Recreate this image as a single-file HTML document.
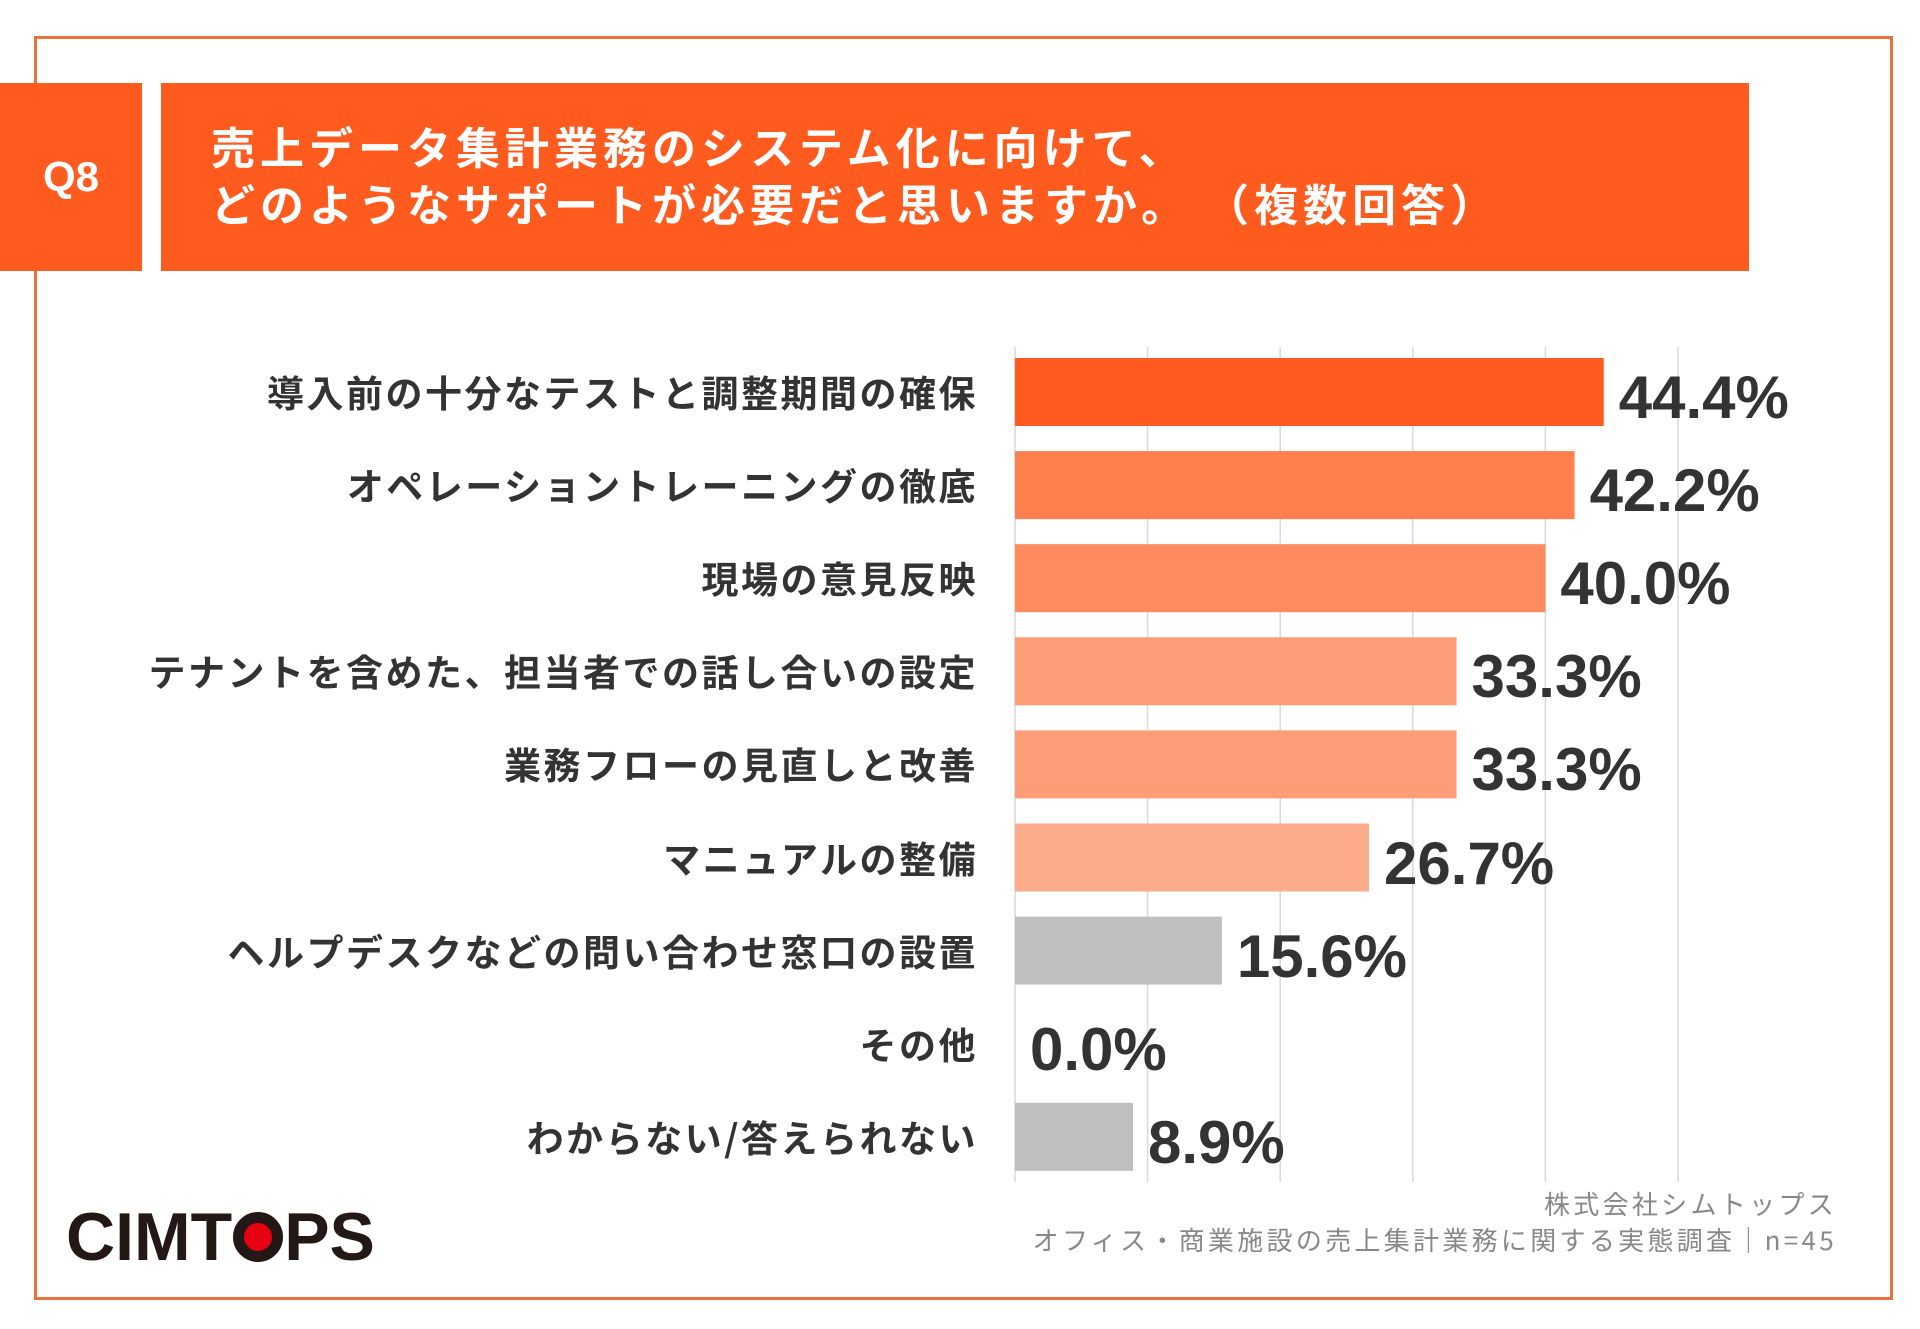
<!DOCTYPE html>
<html><head><meta charset="utf-8">
<style>
body{margin:0;width:1920px;height:1329px;background:#fff;position:relative;overflow:hidden;font-family:"Liberation Sans","Noto Sans CJK JP",sans-serif;}
.abs{position:absolute;}
#frame{left:34px;top:36px;width:1853px;height:1258px;border:3px solid #e8733f;}
#q8{left:0;top:83px;width:142px;height:188px;background:#ff5b1f;color:#fff;font-weight:bold;font-size:42px;display:flex;align-items:center;justify-content:center;}
#title{left:161px;top:83px;width:1588px;height:188px;background:#ff5b1f;}
#title div{position:absolute;left:50px;color:#fff;font-weight:bold;font-size:44px;letter-spacing:5px;line-height:50px;white-space:nowrap;font-family:"Noto Sans CJK JP",sans-serif;}
.lbl{position:absolute;right:942px;font-family:"Noto Sans CJK JP",sans-serif;font-weight:bold;font-size:37px;letter-spacing:2.5px;color:#333;white-space:nowrap;}
.val{position:absolute;font-weight:bold;font-size:60px;color:#333;white-space:nowrap;}
#foot{right:83px;top:1186px;text-align:right;color:#888;font-size:26px;letter-spacing:3.3px;line-height:36px;font-family:"Noto Sans CJK JP",sans-serif;}
#logo{left:66px;top:1200px;font-weight:bold;font-size:68px;color:#231815;line-height:74px;white-space:nowrap;}
</style></head><body>
<div id="frame" class="abs"></div>
<div id="q8" class="abs">Q8</div>
<div id="title" class="abs">
<div style="top:37px">売上データ集計業務のシステム化に向けて、</div>
<div style="top:94px">どのようなサポートが必要だと思いますか。 （複数回答）</div>
</div>
<svg class="abs" style="left:0;top:0" width="1920" height="1329" id="chart"></svg>
<div id="labels"></div>
<div id="foot" class="abs">株式会社シムトップス<br>オフィス・商業施設の売上集計業務に関する実態調査｜n=45</div>
<div id="logo" class="abs">CIMT<span style="display:inline-block;width:50px;height:50px;border:11px solid #231815;border-radius:50%;background:#e60012;vertical-align:-2px;margin:0 1px;box-sizing:border-box;"></span>PS</div>
<script>
const categories=["導入前の十分なテストと調整期間の確保","オペレーショントレーニングの徹底","現場の意見反映","テナントを含めた、担当者での話し合いの設定","業務フローの見直しと改善","マニュアルの整備","ヘルプデスクなどの問い合わせ窓口の設置","その他","わからない/答えられない"];
const values=[44.4,42.2,40.0,33.3,33.3,26.7,15.6,0.0,8.9];
const valueLabels=["44.4%","42.2%","40.0%","33.3%","33.3%","26.7%","15.6%","0.0%","8.9%"];
const colors=["#ff5b1f","#ff7f4e","#ff8b5f","#fd9d77","#fd9d77","#fdac8b","#bfbfbf","#bfbfbf","#bfbfbf"];
const gridTicks=[0,10,20,30,40,50];
const NS="http://www.w3.org/2000/svg";
const x0=1015,pxPer=13.26,y0=392,pitch=93.1,bh=68;
const xs=v=>x0+v*pxPer, yc=i=>y0+i*pitch;
const svg=document.getElementById('chart');
gridTicks.forEach(t=>{
 const l=document.createElementNS(NS,'line');
 l.setAttribute('x1',xs(t));l.setAttribute('x2',xs(t));l.setAttribute('y1',347);l.setAttribute('y2',1182);
 l.setAttribute('stroke','#d9d9d9');l.setAttribute('stroke-width','1.5');
 
 
 svg.appendChild(l);
});
const lab=document.getElementById('labels');
values.forEach((v,i)=>{
 const r=document.createElementNS(NS,'rect');
 r.setAttribute('x',x0);r.setAttribute('y',yc(i)-bh/2);r.setAttribute('width',Math.max(0,xs(v)-x0));r.setAttribute('height',bh);
 r.setAttribute('fill',colors[i]);
 
 
 svg.appendChild(r);
 const d=document.createElement('div');d.className='lbl';d.textContent=categories[i];
 d.style.top=(yc(i)-28)+'px';
 
 
 lab.appendChild(d);
 const t=document.createElement('div');t.className='val';t.textContent=valueLabels[i];
 t.style.left=(xs(v)+15)+'px';t.style.top=(yc(i)-29)+'px';
 
 
 lab.appendChild(t);
});
</script>
</body></html>
